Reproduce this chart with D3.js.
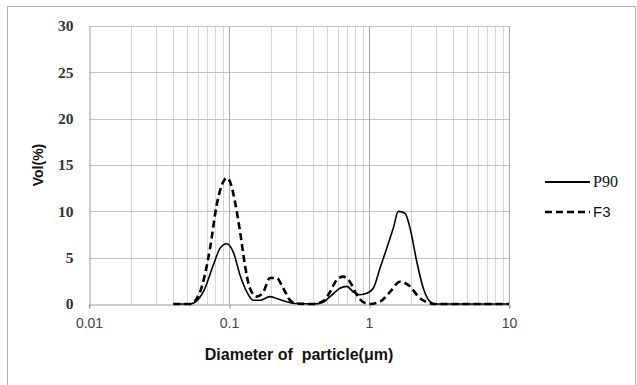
<!DOCTYPE html>
<html><head><meta charset="utf-8">
<script src="https://cdn.jsdelivr.net/npm/d3@7"></script>
<style>html,body{margin:0;padding:0;background:#fff;}svg{display:block;}</style>
</head><body>
<script>
// ---- data ----
const xTickValues = [0.01, 0.1, 1, 10];
const xTickLabels = ["0.01", "0.1", "1", "10"];
const yTickValues = [0, 5, 10, 15, 20, 25, 30];
const seriesNames = ["P90", "F3"];

const p90Diameter = [0.04,0.053,0.0655,0.0773,0.0862,0.0963,0.1073,0.12,0.134,0.149,0.1665,0.196,0.219,0.258,0.30,0.40,0.47,0.527,0.62,0.693,0.773,0.8625,0.963,1.073,1.198,1.338,1.492,1.619,1.808,1.963,2.192,2.443,2.727,2.96,10];
const p90Volume   = [0,0,1.3,4.2,6.0,6.5,5.6,3.1,1.3,0.4,0.4,0.8,0.6,0.25,0.05,0,0.2,0.8,1.7,1.9,1.3,1.0,1.15,1.7,3.85,6.0,8.2,10.0,9.8,8.2,4.6,1.7,0.25,0,0];

const f3Diameter = [0.04,0.053,0.0621,0.0732,0.0817,0.0911,0.0963,0.1017,0.1104,0.12,0.13,0.141,0.158,0.176,0.196,0.219,0.244,0.273,0.305,0.40,0.47,0.527,0.588,0.655,0.73,0.817,0.91,1.017,1.198,1.413,1.665,1.963,2.25,2.583,2.9,10];
const f3Volume   = [0,0,1.3,6.0,10.7,13.2,13.6,13.2,11.0,7.8,4.2,1.7,0.8,1.3,2.8,2.8,1.7,0.4,0.05,0,0.3,1.3,2.6,2.95,2.4,1.0,0.2,0,0.25,1.3,2.4,1.9,0.8,0.2,0,0];

// ---- drawing ----
const W = 637, H = 385;
const svg = d3.select("body").append("svg").attr("width", W).attr("height", H);

// outer chart border
svg.append("rect").attr("x", 7.5).attr("y", 6.5).attr("width", 628).attr("height", 385)
  .attr("fill", "none").attr("stroke", "#b0b0b0").attr("stroke-width", 1);

const x = d3.scaleLog().domain([0.01, 10]).range([89, 509]);
const y = d3.scaleLinear().domain([0, 30]).range([304, 26]);

const g = svg.append("g");

// vertical minor gridlines
g.append("g").selectAll("line")
  .data(x.ticks().filter(v => !xTickValues.some(t => Math.abs(t - v) / t < 1e-9)))
  .join("line")
  .attr("x1", d => Math.round(x(d)) + 0.5).attr("x2", d => Math.round(x(d)) + 0.5)
  .attr("y1", y(30)).attr("y2", y(0))
  .attr("stroke", "#d6d6d6").attr("stroke-width", 1);

// horizontal gridlines
g.append("g").selectAll("line")
  .data(yTickValues.filter(v => v > 0))
  .join("line")
  .attr("x1", x(0.01)).attr("x2", x(10))
  .attr("y1", d => Math.round(y(d)) + 0.5).attr("y2", d => Math.round(y(d)) + 0.5)
  .attr("stroke", "#c4c4c4").attr("stroke-width", 1);

// major vertical gridlines
g.append("g").selectAll("line")
  .data(xTickValues.slice(1))
  .join("line")
  .attr("x1", d => Math.round(x(d)) + 0.5).attr("x2", d => Math.round(x(d)) + 0.5)
  .attr("y1", y(30)).attr("y2", y(0))
  .attr("stroke", "#a8a8a8").attr("stroke-width", 1);

// axes
const xAxis = d3.axisBottom(x).tickValues(xTickValues)
  .tickFormat((d, i) => xTickLabels[i]).tickSize(4).tickPadding(10);
const gx = svg.append("g").attr("transform", `translate(0,${Math.round(y(0)) + 0.5})`).call(xAxis);
gx.select(".domain").attr("stroke", "#9a9a9a");
gx.selectAll(".tick line").attr("stroke", "#9a9a9a").attr("transform", "translate(0.5,0)");
gx.selectAll(".tick text").attr("font-family", "Liberation Sans, Arial, sans-serif")
  .attr("font-size", 14).attr("fill", "#444");

const yAxis = d3.axisLeft(y).tickValues(yTickValues).tickSize(0).tickPadding(16);
const gy = svg.append("g").attr("transform", `translate(${Math.round(x(0.01)) + 0.5},0)`).call(yAxis);
gy.select(".domain").attr("stroke", "#9a9a9a");
gy.selectAll(".tick text").attr("font-family", "Liberation Serif, Times New Roman, serif")
  .attr("font-size", 15.5).attr("font-weight", "bold").attr("fill", "#333");

// lines
const line = d3.line().x(d => x(d[0])).y(d => y(d[1])).curve(d3.curveMonotoneX);
const p90 = p90Diameter.map((d, i) => [d, p90Volume[i]]);
const f3 = f3Diameter.map((d, i) => [d, f3Volume[i]]);

svg.append("path").datum(p90).attr("d", line)
  .attr("fill", "none").attr("stroke", "#000").attr("stroke-width", 1.6);
svg.append("path").datum(f3).attr("d", line)
  .attr("fill", "none").attr("stroke", "#000").attr("stroke-width", 2.6)
  .attr("stroke-dasharray", "7,4");

// axis titles
svg.append("text").attr("x", 299).attr("y", 360).attr("text-anchor", "middle")
  .attr("font-family", "Liberation Sans, Arial, sans-serif").attr("font-size", 16)
  .attr("font-weight", "bold").attr("fill", "#111")
  .attr("xml:space", "preserve").text("Diameter of  particle(\u03bcm)");
svg.append("text").attr("transform", "translate(43,165) rotate(-90)").attr("text-anchor", "middle")
  .attr("font-family", "Liberation Sans, Arial, sans-serif").attr("font-size", 14)
  .attr("font-weight", "bold").attr("fill", "#111").text("Vol(%)");

// legend
const legend = svg.append("g");
const legendY = [182, 212];
const legendStyles = [{w: 2, dash: null, font: "Liberation Serif, serif", size: 16},
                      {w: 2.6, dash: "7,4", font: "Liberation Sans, sans-serif", size: 15}];
seriesNames.forEach((name, i) => {
  legend.append("line").attr("x1", 545).attr("x2", 590).attr("y1", legendY[i]).attr("y2", legendY[i])
    .attr("stroke", "#000").attr("stroke-width", legendStyles[i].w)
    .attr("stroke-dasharray", legendStyles[i].dash);
  legend.append("text").attr("x", 593).attr("y", legendY[i] + 5)
    .attr("font-family", legendStyles[i].font).attr("font-size", legendStyles[i].size)
    .attr("fill", "#111").text(name);
});
</script>
</body></html>
